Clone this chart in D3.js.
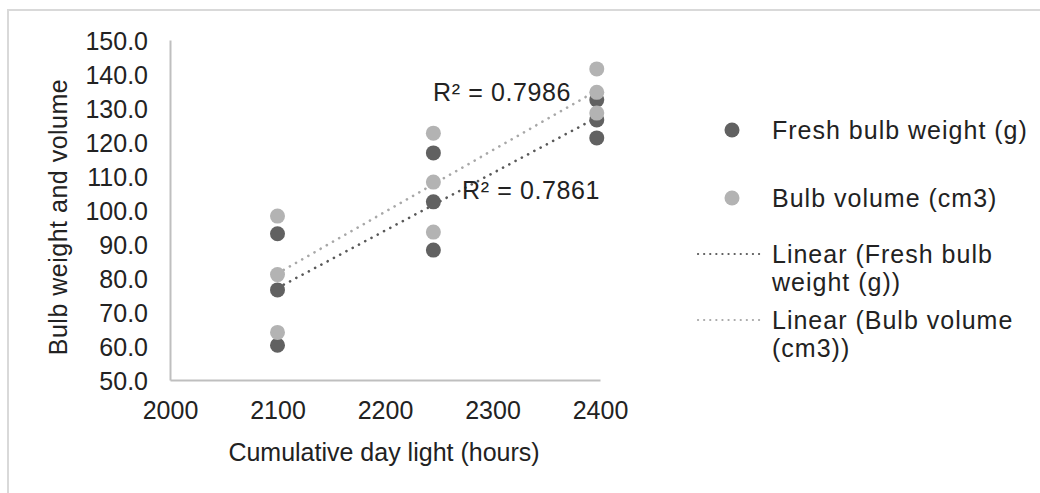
<!DOCTYPE html>
<html>
<head>
<meta charset="utf-8">
<script src="https://cdn.jsdelivr.net/npm/d3@7"></script>
<style>
    body { margin: 0; background: #fff; }
    svg { display: block; font-family: "Liberation Sans", Arial, sans-serif; }
</style>
</head>
<body>
<div id="chart"></div>
<script>

// cumulative day light (hours) for each harvest
let daylight = [2100, 2100, 2100, 2245, 2245, 2245, 2397, 2397, 2397];

// series values
let freshWeight = [93.0, 76.5, 60.2, 116.8, 102.4, 88.2, 132.4, 126.5, 121.2];
let bulbVolume = [98.2, 81.0, 64.0, 122.6, 108.2, 93.5, 141.5, 134.6, 128.5];

// R² labels printed on the chart
let rSquared = ["R² = 0.7861", "R² = 0.7986"];

let xTicks = [2000, 2100, 2200, 2300, 2400];
let yTicks = [50, 60, 70, 80, 90, 100, 110, 120, 130, 140, 150];

let seriesNames = ["Fresh bulb weight (g)", "Bulb volume (cm3)"];
let trendNames = [["Linear (Fresh bulb", "weight (g))"], ["Linear (Bulb volume", "(cm3))"]];

// colors
let dark = "#616161", light = "#b3b3b3";
let darkLine = "#595959", lightLine = "#a8a8a8";

let width = 1040, height = 493;
let plot = {left: 170, top: 40, right: 600, bottom: 380};

let svg = d3.select("#chart").append("svg")
    .attr("width", width)
    .attr("height", height);

// outer chart frame (only top and left edges show)
svg.append("rect")
    .attr("x", 8).attr("y", 10)
    .attr("width", width + 20).attr("height", height + 20)
    .attr("fill", "none")
    .attr("stroke", "#d9d9d9")
    .attr("stroke-width", 2);

let x = d3.scaleLinear().domain([2000, 2400]).range([plot.left, plot.right]);
let y = d3.scaleLinear().domain([50, 150]).range([plot.bottom, plot.top]);

// axes
let xAxis = svg.append("g")
    .attr("transform", `translate(0, ${plot.bottom})`)
    .call(d3.axisBottom(x).tickValues(xTicks).tickSize(0).tickPadding(21).tickFormat(d3.format("d")));

let yAxis = svg.append("g")
    .attr("transform", `translate(${plot.left}, 0)`)
    .call(d3.axisLeft(y).tickValues(yTicks).tickSize(0).tickPadding(22).tickFormat(d3.format(".1f")));

[xAxis, yAxis].forEach(g => {
    g.select(".domain").attr("stroke", "#bfbfbf").attr("stroke-width", 2);
    g.selectAll("text")
        .attr("font-family", "Liberation Sans, Arial, sans-serif")
        .attr("font-size", 25)
        .attr("fill", "#222");
});
yAxis.selectAll("text").attr("dy", "0.36em");
xAxis.selectAll("text").attr("dy", "0.71em");

// axis titles
svg.append("text")
    .attr("x", 384)
    .attr("y", 461)
    .attr("text-anchor", "middle")
    .attr("font-size", 25)
    .attr("fill", "#222")
    .text("Cumulative day light (hours)");

svg.append("text")
    .attr("transform", `translate(67, 217) rotate(-90)`)
    .attr("text-anchor", "middle")
    .attr("font-size", 25)
    .attr("letter-spacing", 0.5)
    .attr("fill", "#222")
    .text("Bulb weight and volume");

// linear trend lines fitted to each series
function fit(xs, ys) {
    let mx = d3.mean(xs), my = d3.mean(ys);
    let sxy = d3.sum(xs, (v, i) => (v - mx) * (ys[i] - my));
    let sxx = d3.sum(xs, v => (v - mx) * (v - mx));
    let slope = sxy / sxx;
    return v => my + slope * (v - mx);
}

let series = [
    {values: freshWeight, color: dark, lineColor: darkLine},
    {values: bulbVolume, color: light, lineColor: lightLine}
];

let xExtent = d3.extent(daylight);

series.forEach(s => {
    let f = fit(daylight, s.values);
    svg.append("path")
        .datum(xExtent)
        .attr("d", d3.line().x(d => x(d)).y(d => y(f(d))))
        .attr("fill", "none")
        .attr("stroke", s.lineColor)
        .attr("stroke-width", 2.6)
        .attr("stroke-linecap", "round")
        .attr("stroke-dasharray", "0.1 7");
});

// points
series.forEach(s => {
    svg.append("g").selectAll("circle")
        .data(s.values)
        .enter().append("circle")
        .attr("cx", (d, i) => x(daylight[i]))
        .attr("cy", d => y(d))
        .attr("r", 7.5)
        .attr("fill", s.color);
});

// R² labels
svg.append("text")
    .attr("x", 531).attr("y", 199)
    .attr("text-anchor", "middle")
    .attr("font-size", 25).attr("letter-spacing", 0.6).attr("fill", "#222")
    .text(rSquared[0]);

svg.append("text")
    .attr("x", 502).attr("y", 101)
    .attr("text-anchor", "middle")
    .attr("font-size", 25).attr("letter-spacing", 0.6).attr("fill", "#222")
    .text(rSquared[1]);

// legend
let legend = svg.append("g")
    .attr("font-size", 25)
    .attr("letter-spacing", 1)
    .attr("fill", "#222");

[130, 198].forEach((ly, i) => {
    legend.append("circle")
        .attr("cx", 732).attr("cy", ly)
        .attr("r", 7.5)
        .attr("fill", series[i].color);
    legend.append("text")
        .attr("x", 772).attr("y", ly)
        .attr("dy", "0.36em")
        .text(seriesNames[i]);
});

[[254, 282], [320, 348]].forEach((rows, i) => {
    legend.append("line")
        .attr("x1", 698).attr("x2", 764)
        .attr("y1", rows[0]).attr("y2", rows[0])
        .attr("stroke", series[i].lineColor)
        .attr("stroke-width", 2.2)
        .attr("stroke-linecap", "round")
        .attr("stroke-dasharray", "0.1 6");
    rows.forEach((ly, j) => {
        legend.append("text")
            .attr("x", 772).attr("y", ly)
            .attr("dy", "0.36em")
            .text(trendNames[i][j]);
    });
});

</script>
</body>
</html>
